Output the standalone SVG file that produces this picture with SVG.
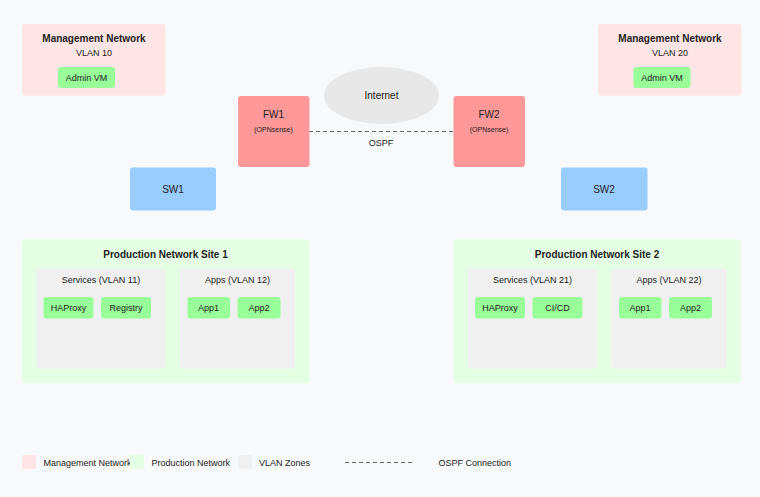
<svg xmlns="http://www.w3.org/2000/svg" width="760" height="497" viewBox="0 0 760 497">
<style>
text{font-family:"Liberation Sans",Arial,sans-serif;fill:#222;text-anchor:middle}
.t{font-size:10px;font-weight:bold}
.s{font-size:9px}
.m{font-size:10px}
.xs{font-size:7px}
.mg{fill:#ffe5e5}
.pr{fill:#e5ffe5}
.vz{fill:#f0f0f0}
.vm{fill:#99ff99}
.fw{fill:#ff9999}
.sw{fill:#99ccff}
.dash{stroke:#666;stroke-width:1;stroke-dasharray:4,3;fill:none}
.lg{text-anchor:start}
</style>
<rect width="760" height="497" fill="#f8f9fa"/>
<g id="connectors">
<line class="dash" x1="309" y1="131.5" x2="453" y2="131.5"/>
<text class="s" x="381" y="146">OSPF</text>
</g>
<g id="mgmt1">
<rect class="mg" x="22" y="24" width="143.5" height="71.5" rx="3"/>
<text class="t" x="94" y="42">Management Network</text>
<text class="s" x="94" y="56">VLAN 10</text>
<rect class="vm" x="58" y="67" width="57" height="21" rx="3"/>
<text class="s" x="86.5" y="81">Admin VM</text>
</g>
<g id="mgmt2">
<rect class="mg" x="598" y="24" width="143.5" height="71.5" rx="3"/>
<text class="t" x="670" y="42">Management Network</text>
<text class="s" x="670" y="56">VLAN 20</text>
<rect class="vm" x="633.5" y="67" width="57" height="21" rx="3"/>
<text class="s" x="662" y="81">Admin VM</text>
</g>
<g id="internet">
<ellipse cx="381.5" cy="95.5" rx="57.5" ry="28.5" fill="#e8e8e8"/>
<text class="m" x="381.5" y="99">Internet</text>
</g>
<g id="fw1">
<rect class="fw" x="238" y="96" width="71.5" height="71" rx="3"/>
<text class="m" x="273.5" y="117.5">FW1</text>
<text class="xs" x="273.5" y="132">(OPNsense)</text>
</g>
<g id="fw2">
<rect class="fw" x="453.5" y="96" width="71.5" height="71" rx="3"/>
<text class="m" x="489" y="117.5">FW2</text>
<text class="xs" x="489" y="132">(OPNsense)</text>
</g>
<g id="sw1">
<rect class="sw" x="130" y="167.5" width="86" height="43" rx="3"/>
<text class="m" x="173" y="193">SW1</text>
</g>
<g id="sw2">
<rect class="sw" x="561" y="167.5" width="86.5" height="43" rx="3"/>
<text class="m" x="604" y="193">SW2</text>
</g>
<g id="site1">
<rect class="pr" x="22" y="239.5" width="287.5" height="143.5" rx="3"/>
<text class="t" x="165.5" y="257.5">Production Network Site 1</text>
<g id="site1-services">
<rect class="vz" x="36.5" y="268.5" width="129" height="100" rx="3"/>
<text class="s" x="101" y="283">Services (VLAN 11)</text>
<rect class="vm" x="43.5" y="297" width="50" height="21.5" rx="3"/>
<text class="s" x="68.5" y="311">HAProxy</text>
<rect class="vm" x="101" y="297" width="50" height="21.5" rx="3"/>
<text class="s" x="126" y="311">Registry</text>
</g>
<g id="site1-apps">
<rect class="vz" x="180" y="268.5" width="115" height="100" rx="3"/>
<text class="s" x="237.5" y="283">Apps (VLAN 12)</text>
<rect class="vm" x="187.5" y="297" width="42.5" height="21.5" rx="3"/>
<text class="s" x="208.5" y="311">App1</text>
<rect class="vm" x="237.5" y="297" width="43" height="21.5" rx="3"/>
<text class="s" x="259" y="311">App2</text>
</g>
</g>
<g id="site2">
<rect class="pr" x="453.5" y="239.5" width="287.5" height="143.5" rx="3"/>
<text class="t" x="597" y="257.5">Production Network Site 2</text>
<g id="site2-services">
<rect class="vz" x="468" y="268.5" width="129" height="100" rx="3"/>
<text class="s" x="532.5" y="283">Services (VLAN 21)</text>
<rect class="vm" x="475" y="297" width="50" height="21.5" rx="3"/>
<text class="s" x="500" y="311">HAProxy</text>
<rect class="vm" x="532.5" y="297" width="50" height="21.5" rx="3"/>
<text class="s" x="557.5" y="311">CI/CD</text>
</g>
<g id="site2-apps">
<rect class="vz" x="611.5" y="268.5" width="115" height="100" rx="3"/>
<text class="s" x="669" y="283">Apps (VLAN 22)</text>
<rect class="vm" x="619" y="297" width="42.5" height="21.5" rx="3"/>
<text class="s" x="640" y="311">App1</text>
<rect class="vm" x="669" y="297" width="43" height="21.5" rx="3"/>
<text class="s" x="690.5" y="311">App2</text>
</g>
</g>
<g id="legend">
<rect class="mg" x="22" y="455" width="14" height="14" rx="2"/>
<text class="s lg" x="43.5" y="466">Management Network</text>
<rect class="pr" x="130" y="455" width="14" height="14" rx="2"/>
<text class="s lg" x="151.5" y="466">Production Network</text>
<rect class="vz" x="238" y="455" width="14" height="14" rx="2"/>
<text class="s lg" x="259" y="466">VLAN Zones</text>
<line class="dash" x1="345" y1="462.5" x2="415" y2="462.5"/>
<text class="s lg" x="438.5" y="466">OSPF Connection</text>
</g>
</svg>
